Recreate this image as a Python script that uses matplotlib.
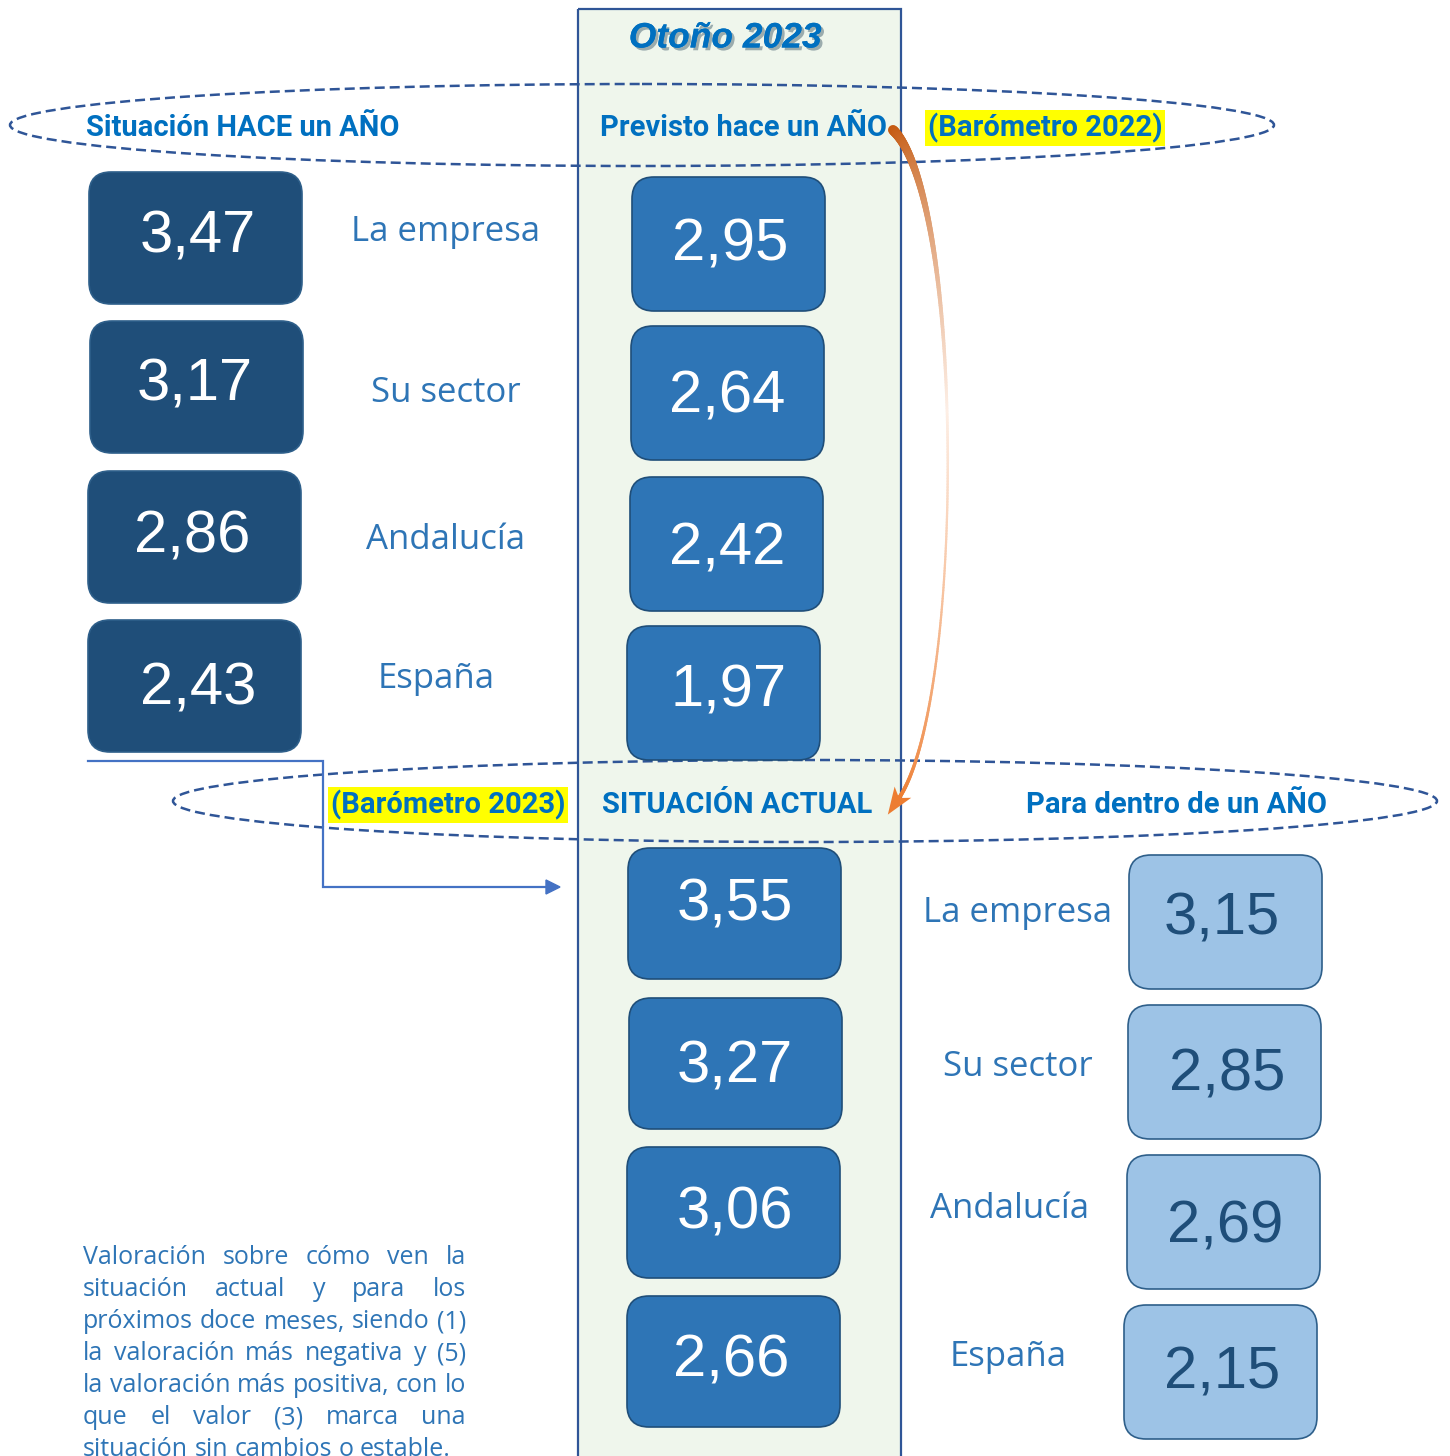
import numpy as np
import matplotlib.pyplot as plt
from matplotlib.patches import FancyBboxPatch, Ellipse, Rectangle, Polygon
from matplotlib.collections import LineCollection
from matplotlib.colors import to_rgb
import matplotlib.patheffects as pe

# datos
ambitos = ["La empresa", "Su sector", "Andalucía", "España"]
hace_un_ano = [3.47, 3.17, 2.86, 2.43]      # situación hace un año (barómetro 2022)
previsto = [2.95, 2.64, 2.42, 1.97]         # previsto hace un año (barómetro 2022)
actual = [3.55, 3.27, 3.06, 2.66]           # situación actual (barómetro 2023)
dentro_un_ano = [3.15, 2.85, 2.69, 2.15]    # para dentro de un año

titulo = "Otoño 2023"
cab_hace = "Situación HACE un AÑO"
cab_previsto = "Previsto hace un AÑO"
cab_2022 = "(Barómetro 2022)"
cab_2023 = "(Barómetro 2023)"
cab_actual = "SITUACIÓN ACTUAL"
cab_dentro = "Para dentro de un AÑO"
nota = ["Valoración sobre cómo ven la",
        "situación actual y para los",
        "próximos doce meses, siendo (1)",
        "la valoración más negativa y (5)",
        "la valoración más positiva, con lo",
        "que el valor (3) marca una",
        "situación sin cambios o estable."]

# colores
AZUL_OSC = "#1F4E79"
AZUL_MED = "#2E75B6"
AZUL_CLA = "#9DC3E6"
AZUL_TXT = "#0070C0"
BORDE = "#2F5597"
VERDE = "#EFF6EC"

W, H = 1450, 1456
fig = plt.figure(figsize=(W / 100, H / 100), dpi=100)
ax = fig.add_axes([0, 0, 1, 1])
ax.set_xlim(0, W)
ax.set_ylim(H, 0)
ax.axis("off")


def fmt(v):
    return f"{v:.2f}".replace(".", ",")


def caja(x, y, w, h, fc, ec):
    ax.add_patch(FancyBboxPatch((x, y), w, h, boxstyle="round,pad=0,rounding_size=22",
                                fc=fc, ec=ec, lw=1.2, zorder=5))


# columna central
ax.add_patch(Rectangle((578, 9), 323, 1460, fc=VERDE, ec="none", zorder=0))
ax.add_patch(Rectangle((578, 9), 323, 1460, fill=False, ec=BORDE, lw=1.6, zorder=3))

# elipses discontinuas
for cx, cy in [(642, 125), (805, 801)]:
    ax.add_patch(Ellipse((cx, cy), 1264, 82, fill=False, ec=BORDE, lw=1.8,
                         ls=(0, (4, 2)), zorder=2))

ax.text(725, 38, titulo, ha="center", va="center", fontsize=25.5, color=AZUL_TXT,
        family="Liberation Sans", weight="bold", style="italic", zorder=6,
        path_effects=[pe.withSimplePatchShadow(offset=(2, -2), alpha=0.35), pe.Normal()])

cab = dict(ha="center", va="center", fontsize=21, color=AZUL_TXT, family="Roboto",
           weight="bold", zorder=6)
amarillo = dict(boxstyle="square,pad=0.1", fc="#FFFF00", ec="none")
ax.text(243, 128, cab_hace, **cab)
ax.text(744, 128, cab_previsto, **cab)
ax.text(1045, 128, cab_2022, bbox=amarillo, **cab)
ax.text(448, 805, cab_2023, bbox=amarillo, **cab)
ax.text(737, 805, cab_actual, **cab)
ax.text(1177, 805, cab_dentro, **cab)

# cajas
num = dict(ha="center", va="baseline", fontsize=43, family="Liberation Sans", zorder=6)
et = dict(ha="center", va="center", fontsize=25, color=AZUL_MED, family="Open Sans", zorder=6)

izq_x = [89, 90, 88, 88]
izq_y = [172, 321, 471, 620]
izq_t = [(198, 232), (195, 380), (192, 532), (198, 684)]
izq_lab = [(446, 232), (446, 393), (446, 540), (436, 679)]
for i, v in enumerate(hace_un_ano):
    caja(izq_x[i], izq_y[i], 213, 132, AZUL_OSC, "#2E5F8A")
    ax.text(izq_t[i][0], izq_t[i][1] + 21, fmt(v), color="white", **num)
    ax.text(izq_lab[i][0], izq_lab[i][1], ambitos[i], **et)

pre_x = [632, 631, 630, 627]
pre_y = [177, 326, 477, 626]
pre_t = [(730, 240), (727, 391), (727, 543), (729, 685)]
for i, v in enumerate(previsto):
    caja(pre_x[i], pre_y[i], 193, 134, AZUL_MED, AZUL_OSC)
    ax.text(pre_t[i][0], pre_t[i][1] + 21, fmt(v), color="white", **num)

act_x = [628, 629, 627, 627]
act_y = [848, 998, 1147, 1296]
act_t = [(735, 900), (735, 1062), (735, 1208), (731, 1355)]
for i, v in enumerate(actual):
    caja(act_x[i], act_y[i], 213, 131, AZUL_MED, AZUL_OSC)
    ax.text(act_t[i][0], act_t[i][1] + 21, fmt(v), color="white", **num)

den_x = [1129, 1128, 1127, 1124]
den_y = [855, 1005, 1155, 1305]
den_t = [(1222, 913), (1227, 1069), (1225, 1222), (1222, 1367)]
den_lab = [(1018, 913), (1018, 1067), (1010, 1209), (1008, 1357)]
for i, v in enumerate(dentro_un_ano):
    caja(den_x[i], den_y[i], 193, 134, AZUL_CLA, "#2E5F8A")
    ax.text(den_t[i][0], den_t[i][1] + 21, fmt(v), color=AZUL_OSC, **num)
    ax.text(den_lab[i][0], den_lab[i][1], ambitos[i], **et)

# flecha en codo (azul)
ax.plot([88, 323, 323, 546], [761, 761, 887, 887], color="#4472C4", lw=1.6, zorder=4,
        solid_joinstyle="miter")
ax.add_patch(Polygon([(546, 880), (560, 887), (546, 894)], closed=True, fc="#4472C4",
                     ec="#4472C4", lw=1, zorder=4))

# flecha curva (naranja, degradado)
p0, p1, p2, p3 = map(np.array, [(893, 130), (965, 200), (965, 700), (899, 798)])
t = np.linspace(0, 1, 300)[:, None]
pts = (1 - t) ** 3 * p0 + 3 * (1 - t) ** 2 * t * p1 + 3 * (1 - t) * t ** 2 * p2 + t ** 3 * p3
segs = np.stack([pts[:-1], pts[1:]], axis=1)
tm = t[:-1, 0]
anchos = (9 * (1 - tm) ** 3 + 1 + 3 * tm ** 3) * 0.72
c0, c1, c2 = [np.array(to_rgb(c)) for c in ("#C55A11", "#FDEFE6", "#ED7D31")]
cols = [c0 + (c1 - c0) * (s / 0.45) if s < 0.45 else c1 + (c2 - c1) * ((s - 0.45) / 0.55)
        for s in tm]
ax.add_collection(LineCollection(segs, colors=cols, linewidths=anchos, capstyle="round",
                                 zorder=7))
d = p3 - p2
d = d / np.hypot(*d)
n = np.array([-d[1], d[0]])
punta = p3 + d * 20
ax.add_patch(Polygon([punta, p3 - d * 7 + n * 10, p3, p3 - d * 7 - n * 10], closed=True,
                     fc="#ED7D31", ec="none", zorder=7))

# nota justificada
x0, x1 = 83, 466
r = fig.canvas.get_renderer()
for k, linea in enumerate(nota):
    y = 1258 + 32 * k
    palabras = linea.split()
    objs = [ax.text(0, y, p, ha="left", va="center", fontsize=18, color=AZUL_MED,
                    family="Open Sans", zorder=6) for p in palabras]
    anchos_p = [o.get_window_extent(r).width for o in objs]
    espacio = objs[0].get_fontsize() * 100 / 72 * 0.26
    if k < len(nota) - 1:
        hueco = max((x1 - x0 - sum(anchos_p)) / (len(palabras) - 1), espacio * 0.6)
    else:
        hueco = espacio
    x = x0
    for o, a in zip(objs, anchos_p):
        o.set_x(x)
        x += a + hueco

fig.savefig("out.png", dpi=100)
